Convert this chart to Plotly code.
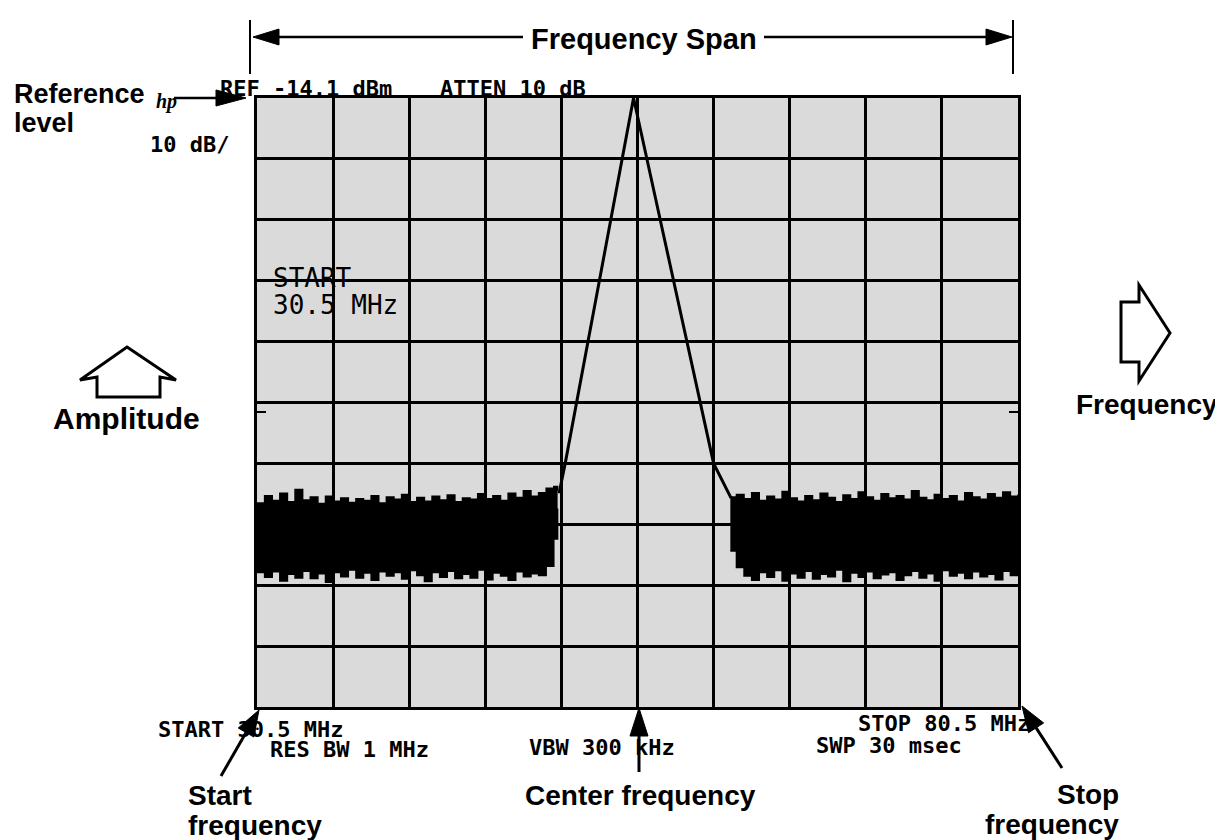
import plotly.graph_objects as go

# ---------------- data ----------------
f_start, f_stop = 30.5, 80.5          # MHz
ref_level, db_per_div, n_div = -14.1, 10, 10

sig_freq = [50.35, 50.75, 55.24, 60.5, 61.65]
sig_dbm = [-79.0, -74.1, -14.1, -74.1, -79.8]

noise_l_freq = [30.5, 31.0, 31.5, 32.0, 32.5, 33.0, 33.5, 34.0, 34.5, 35.0,
                35.5, 36.0, 36.5, 37.0, 37.5, 38.0, 38.5, 39.0, 39.5, 40.0,
                40.5, 41.0, 41.5, 42.0, 42.5, 43.0, 43.5, 44.0, 44.5, 45.0,
                45.5, 46.0, 46.5, 47.0, 47.5, 48.0, 48.5, 49.0, 49.5, 50.0, 50.25]
noise_l_hi = [-80.6, -79.4, -80.2, -79.0, -80.4, -78.4, -80.1, -79.6, -80.7, -79.5,
              -80.3, -79.8, -80.5, -79.9, -80.2, -79.4, -80.6, -79.6, -80.0, -79.2,
              -80.4, -79.7, -80.3, -79.5, -80.1, -79.3, -80.4, -79.8, -80.0, -79.1,
              -79.9, -79.4, -80.2, -79.0, -79.7, -78.6, -79.5, -78.9, -78.2, -77.9, -78.6]
noise_l_lo = [-92.0, -92.8, -91.9, -93.4, -92.3, -92.9, -91.8, -93.0, -92.2, -93.6,
              -92.0, -92.7, -91.6, -92.9, -92.1, -93.3, -91.9, -92.6, -92.0, -93.1,
              -91.7, -92.5, -93.5, -92.0, -92.8, -91.8, -93.0, -92.3, -92.9, -91.6,
              -93.2, -92.1, -92.6, -93.3, -91.9, -92.7, -92.2, -92.5, -91.0, -86.5, -81.5]

noise_r_freq = [61.6, 62.0, 62.5, 63.0, 63.5, 64.0, 64.5, 65.0, 65.5, 66.0,
                66.5, 67.0, 67.5, 68.0, 68.5, 69.0, 69.5, 70.0, 70.5, 71.0,
                71.5, 72.0, 72.5, 73.0, 73.5, 74.0, 74.5, 75.0, 75.5, 76.0,
                76.5, 77.0, 77.5, 78.0, 78.5, 79.0, 79.5, 80.0, 80.5]
noise_r_hi = [-79.6, -79.2, -79.9, -78.9, -80.2, -79.5, -80.0, -78.7, -79.8, -80.3,
              -79.4, -80.1, -79.0, -79.7, -80.4, -79.3, -79.9, -78.8, -79.6, -80.2,
              -79.1, -79.8, -79.4, -80.0, -78.6, -79.7, -80.1, -79.2, -79.9, -79.4,
              -80.3, -78.9, -79.6, -80.0, -79.1, -79.7, -78.8, -79.5, -79.2]
noise_r_lo = [-88.5, -91.2, -92.6, -93.3, -92.0, -92.8, -91.7, -93.4, -92.2, -92.9,
              -91.8, -93.1, -92.3, -92.7, -91.6, -93.5, -92.1, -92.8, -91.9, -93.0,
              -92.4, -92.0, -93.3, -92.5, -91.8, -92.9, -92.2, -93.4, -91.7, -92.6,
              -92.1, -93.0, -91.9, -92.7, -92.3, -93.2, -91.8, -92.5, -92.0]

# ---------------- layout geometry ----------------
W, H = 1223, 840
L, R, T, B = 249, 1010, 90, 699


def px(x):
    return (x - L) / (R - L)


def py(y):
    return (B - y) / (B - T)


fig = go.Figure()

for fr, lo, hi in [(noise_l_freq, noise_l_lo, noise_l_hi),
                   (noise_r_freq, noise_r_lo, noise_r_hi)]:
    fig.add_trace(go.Scatter(x=fr, y=lo, mode="lines", line_shape="hv",
                             line=dict(color="black", width=1.5),
                             hoverinfo="skip"))
    fig.add_trace(go.Scatter(x=fr, y=hi, mode="lines", line_shape="hv", fill="tonexty",
                             fillcolor="black",
                             line=dict(color="black", width=1.5),
                             hoverinfo="skip"))

fig.add_trace(go.Scatter(x=sig_freq, y=sig_dbm, mode="lines",
                         line=dict(color="black", width=3), hoverinfo="skip"))

shapes = []
annotations = []

BOLD = dict(family="Liberation Sans, Arial, sans-serif", size=28, color="black", weight="bold")
MONO = dict(family="DejaVu Sans Mono, monospace", size=22, color="black", weight="bold")


def label(text, x, y, font, xanchor="center"):
    annotations.append(dict(text=text, x=px(x), y=py(y), xref="paper", yref="paper",
                            showarrow=False, xanchor=xanchor, yanchor="middle",
                            font=font))


def seg(x0, y0, x1, y1, width=3):
    shapes.append(dict(type="line", xref="paper", yref="paper",
                       x0=px(x0), y0=py(y0), x1=px(x1), y1=py(y1),
                       line=dict(color="black", width=width)))


def arrow(x0, y0, x1, y1, head_len=24, head_w=16, width=3):
    dx, dy = x1 - x0, y1 - y0
    n = (dx * dx + dy * dy) ** 0.5
    ux, uy = dx / n, dy / n
    bx, by = x1 - ux * head_len, y1 - uy * head_len
    seg(x0, y0, bx + ux * 2, by + uy * 2, width)
    pxp, pyp = -uy * head_w / 2, ux * head_w / 2
    pts = [(x1, y1), (bx + pxp, by + pyp), (bx - pxp, by - pyp)]
    path = "M " + " L ".join(f"{px(a):.5f},{py(b):.5f}" for a, b in pts) + " Z"
    shapes.append(dict(type="path", xref="paper", yref="paper", path=path,
                       fillcolor="black", line=dict(color="black", width=1)))


def outline(points):
    path = "M " + " L ".join(f"{px(a):.5f},{py(b):.5f}" for a, b in points) + " Z"
    shapes.append(dict(type="path", xref="paper", yref="paper", path=path,
                       fillcolor="white", line=dict(color="black", width=3)))


# Frequency span
seg(242, 12, 242, 66, 2)
seg(1005, 12, 1005, 66, 2)
arrow(515, 29, 245, 29, head_len=26, head_w=16, width=2.5)
arrow(756, 29, 1004, 29, head_len=26, head_w=16, width=2.5)
label("Frequency Span", 636, 31, dict(BOLD, size=29))

# Reference level
label("Reference", 4, 86, dict(BOLD, size=27), xanchor="left")
label("level", 4, 115, dict(BOLD, size=27), xanchor="left")
label("hp", 146, 93, dict(family="Liberation Serif, serif", size=20, color="black",
                          style="italic", weight="bold"), xanchor="left")
arrow(166, 90, 238, 90, head_len=30, head_w=16, width=2.5)
label("REF -14.1 dBm", 210, 81, MONO, xanchor="left")
label("ATTEN 10 dB", 430, 81, MONO, xanchor="left")
label("10 dB/", 140, 136, MONO, xanchor="left")

# START in graticule
SCR = dict(family="DejaVu Sans Mono, monospace", size=26, color="black")
label("START", 263, 270, SCR, xanchor="left")
label("30.5 MHz", 263, 297, SCR, xanchor="left")

# mid-screen ticks
seg(L, 404, L + 9, 404, 2)
seg(R - 9, 404, R, 404, 2)

# Amplitude
outline([(119, 339), (168, 372), (152, 369), (152, 389), (89, 389), (89, 369), (72, 372)])
label("Amplitude", 118, 410, dict(BOLD, size=30))

# Frequency
outline([(1113, 294), (1131, 294), (1131, 277), (1162, 325), (1131, 373),
         (1131, 354), (1113, 354)])
label("Frequency", 1139, 396, dict(BOLD, size=28))

# Bottom annotations
label("START 30.5 MHz", 148, 721, MONO, xanchor="left")
label("RES BW 1 MHz", 260, 741, MONO, xanchor="left")
label("VBW 300 kHz", 519, 739, MONO, xanchor="left")
label("STOP 80.5 MHz", 848, 715, MONO, xanchor="left")
label("SWP 30 msec", 806, 737, MONO, xanchor="left")

arrow(213, 768, 251, 702, head_len=26, head_w=18, width=3)
arrow(631, 764, 631, 700, head_len=28, head_w=18, width=3)
arrow(1054, 760, 1014, 698, head_len=26, head_w=18, width=3)

label("Start", 178, 787, BOLD, xanchor="left")
label("frequency", 178, 817, BOLD, xanchor="left")
label("Center frequency", 632, 787, BOLD)
label("Stop", 1113, 786, BOLD, xanchor="right")
label("frequency", 1113, 816, BOLD, xanchor="right")

fig.update_layout(
    width=W, height=H, autosize=False,
    margin=dict(l=L, r=W - R, t=T, b=H - B, pad=0),
    paper_bgcolor="white", plot_bgcolor="#dadada",
    showlegend=False,
    shapes=shapes, annotations=annotations,
    xaxis=dict(range=[f_start, f_stop], tick0=f_start, dtick=(f_stop - f_start) / n_div,
               showgrid=True, gridcolor="black", gridwidth=2.5,
               showticklabels=False, ticks="", zeroline=False,
               showline=True, mirror=True, linecolor="black", linewidth=3,
               fixedrange=True),
    yaxis=dict(range=[ref_level - db_per_div * n_div, ref_level], tick0=ref_level,
               dtick=db_per_div, showgrid=True, gridcolor="black", gridwidth=2.5,
               showticklabels=False, ticks="", zeroline=False,
               showline=True, mirror=True, linecolor="black", linewidth=3,
               fixedrange=True),
)

fig.write_html("out.html")
